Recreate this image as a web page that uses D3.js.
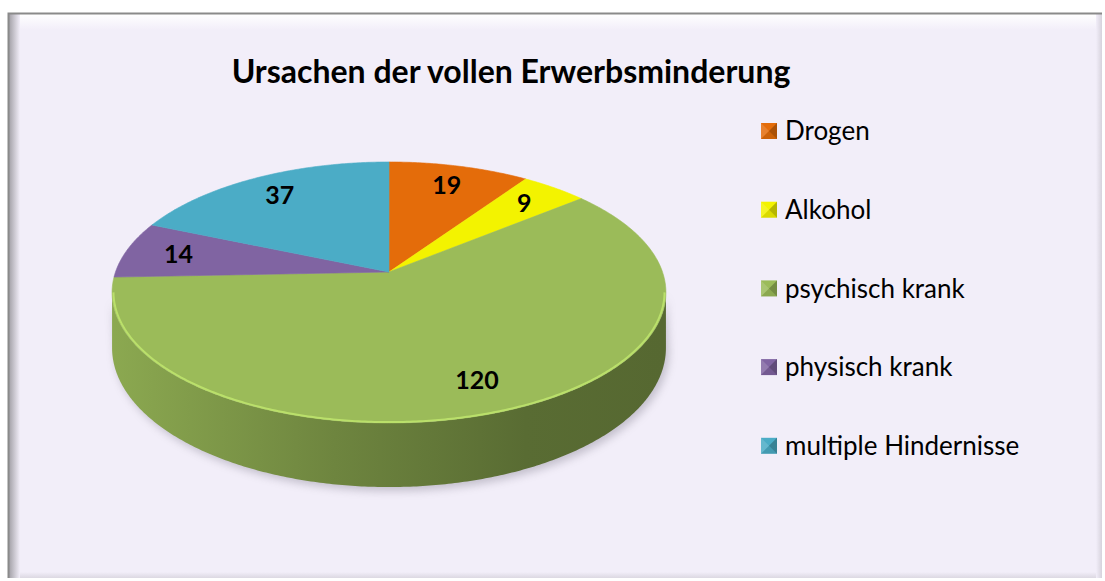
<!DOCTYPE html>
<html>
<head>
<meta charset="utf-8">
<script src="https://cdn.jsdelivr.net/npm/d3@7"></script>
<style>
  body { margin: 0; background: #ffffff; }
  svg { display: block; font-family: Lato, "Open Sans", sans-serif; }
</style>
</head>
<body>
<div id="chart"></div>
<script>
// chart data
var title = "Ursachen der vollen Erwerbsminderung";
var categories = ["Drogen", "Alkohol", "psychisch krank", "physisch krank", "multiple Hindernisse"];
var values = [19, 9, 120, 14, 37];
var colors = ["#e46c0a", "#f3f300", "#9bbb59", "#8064a2", "#4bacc6"];

var width = 1105, height = 581;

var svg = d3.select("#chart").append("svg")
  .attr("width", width)
  .attr("height", height);

var defs = svg.append("defs");

// frame with bevel look
var frame = { x: 8, y: 13, w: 1094, h: 565 };

var lg = defs.append("linearGradient").attr("id", "leftEdge")
  .attr("x1", 0).attr("x2", 1).attr("y1", 0).attr("y2", 0);
lg.append("stop").attr("offset", 0).attr("stop-color", "#9c9aa0");
lg.append("stop").attr("offset", 1).attr("stop-color", "#f2eef9");

var tg = defs.append("linearGradient").attr("id", "topEdge")
  .attr("x1", 0).attr("x2", 0).attr("y1", 0).attr("y2", 1);
tg.append("stop").attr("offset", 0).attr("stop-color", "#ffffff");
tg.append("stop").attr("offset", 1).attr("stop-color", "#f2eef9");

var rg = defs.append("linearGradient").attr("id", "rightEdge")
  .attr("x1", 0).attr("x2", 1).attr("y1", 0).attr("y2", 0);
rg.append("stop").attr("offset", 0).attr("stop-color", "#f2eef9");
rg.append("stop").attr("offset", 1).attr("stop-color", "#d6d2dc");

var bg = defs.append("linearGradient").attr("id", "bottomEdge")
  .attr("x1", 0).attr("x2", 0).attr("y1", 0).attr("y2", 1);
bg.append("stop").attr("offset", 0).attr("stop-color", "#f2eef9");
bg.append("stop").attr("offset", 1).attr("stop-color", "#dcd8e2");

svg.append("rect")
  .attr("x", frame.x).attr("y", frame.y)
  .attr("width", frame.w).attr("height", frame.h)
  .attr("fill", "#f2eef9");
svg.append("rect")
  .attr("x", frame.x).attr("y", frame.y + 1)
  .attr("width", frame.w).attr("height", 16)
  .attr("fill", "url(#topEdge)");
svg.append("rect")
  .attr("x", frame.x).attr("y", frame.y + frame.h - 6)
  .attr("width", frame.w).attr("height", 6)
  .attr("fill", "url(#bottomEdge)");
svg.append("rect")
  .attr("x", frame.x + frame.w - 6).attr("y", frame.y)
  .attr("width", 6).attr("height", frame.h)
  .attr("fill", "url(#rightEdge)");
svg.append("rect")
  .attr("x", frame.x).attr("y", frame.y)
  .attr("width", 12).attr("height", frame.h)
  .attr("fill", "url(#leftEdge)");
svg.append("path")
  .attr("d", "M" + (frame.x + 0.5) + "," + (frame.y + frame.h) + "V" + (frame.y + 0.5) + "H" + (frame.x + frame.w))
  .attr("fill", "none")
  .attr("stroke", "#8a8a8a")
  .attr("stroke-width", 2);

// title
svg.append("text")
  .attr("x", 511)
  .attr("y", 83)
  .attr("text-anchor", "middle")
  .attr("font-size", 32)
  .attr("font-weight", "bold")
  .attr("fill", "#000")
  .text(title);

// 3D pie with a light perspective
var cx = 389, cy = 272;
var A = 273.5, B = 127.3, k = 0.157, H = 54;

function project(a, r) {
  var X = r * Math.sin(a), Z = r * Math.cos(a), w = 1 + k * Z;
  return [cx + A * X / w, cy - B * Z / w];
}
function drop(a) {
  return H / (1 + k * Math.cos(a));
}
function rim(a0, a1, r) {
  var n = Math.max(2, Math.ceil((a1 - a0) / 0.01));
  return d3.range(n + 1).map(function(i) { return project(a0 + (a1 - a0) * i / n, r); });
}

var pie = d3.pie().sort(null).value(function(d) { return d; });
var arcs = pie(values);

var line = d3.line();
var frontStart = Math.acos(-k), frontEnd = 2 * Math.PI - Math.acos(-k);

// side gradients, light on the left, dark on the right
colors.forEach(function(c, i) {
  var g = defs.append("linearGradient").attr("id", "side" + i)
    .attr("gradientUnits", "userSpaceOnUse")
    .attr("x1", cx - A).attr("x2", cx + A).attr("y1", 0).attr("y2", 0);
  g.append("stop").attr("offset", 0).attr("stop-color", d3.color(c).darker(0.3));
  g.append("stop").attr("offset", 0.4).attr("stop-color", d3.color(c).darker(0.95));
  g.append("stop").attr("offset", 0.75).attr("stop-color", d3.color(c).darker(1.55));
  g.append("stop").attr("offset", 1).attr("stop-color", d3.color(c).darker(1.65));
});

var shadow = defs.append("filter").attr("id", "soft")
  .attr("x", "-10%").attr("y", "-10%").attr("width", "120%").attr("height", "130%");
shadow.append("feGaussianBlur").attr("stdDeviation", 4);

var pieG = svg.append("g");

// soft shadow under the pie
var sh = rim(frontStart, frontEnd, 1);
var shBottom = sh.slice().reverse().map(function(p, i) {
  var a = frontEnd - (frontEnd - frontStart) * i / (sh.length - 1);
  return [p[0] + 3, p[1] + drop(a) + 4];
});
pieG.append("path")
  .attr("d", line(sh.concat(shBottom)) + "Z")
  .attr("fill", "#6c6878")
  .attr("opacity", 0.35)
  .attr("filter", "url(#soft)");

// side walls (front half only)
arcs.forEach(function(d, i) {
  var a0 = Math.max(d.startAngle, frontStart), a1 = Math.min(d.endAngle, frontEnd);
  if (a1 <= a0) return;
  var n = Math.max(2, Math.ceil((a1 - a0) / 0.01));
  var top = [], bottom = [];
  for (var j = 0; j <= n; j++) {
    var a = a0 + (a1 - a0) * j / n;
    var p = project(a, 1);
    top.push(p);
    bottom.push([p[0], p[1] + drop(a)]);
  }
  pieG.append("path")
    .attr("d", line(top.concat(bottom.reverse())) + "Z")
    .attr("fill", "url(#side" + i + ")");
});

// top faces
arcs.forEach(function(d, i) {
  var pts = [[cx, cy]].concat(rim(d.startAngle, d.endAngle, 1));
  pieG.append("path")
    .attr("d", line(pts) + "Z")
    .attr("fill", colors[i])
    .attr("stroke", colors[i])
    .attr("stroke-width", 0.6);
});

// light rim highlight along the front edge
arcs.forEach(function(d, i) {
  var a0 = Math.max(d.startAngle, frontStart), a1 = Math.min(d.endAngle, frontEnd);
  if (a1 <= a0) return;
  pieG.append("path")
    .attr("d", line(rim(a0, a1, 0.995)))
    .attr("fill", "none")
    .attr("stroke", d3.color(colors[i]).brighter(0.7))
    .attr("stroke-width", 2)
    .attr("opacity", 0.7);
});

// value labels
pieG.selectAll("text.value")
  .data(arcs)
  .enter()
  .append("text")
  .attr("class", "value")
  .attr("x", function(d) { return project((d.startAngle + d.endAngle) / 2, 0.8)[0]; })
  .attr("y", function(d) { return project((d.startAngle + d.endAngle) / 2, 0.8)[1]; })
  .attr("dy", "0.35em")
  .attr("text-anchor", "middle")
  .attr("font-size", 25)
  .attr("font-weight", "bold")
  .attr("fill", "#000")
  .text(function(d) { return d.data; });

// legend
var legend = svg.append("g").attr("transform", "translate(761,131)");
var rows = legend.selectAll("g")
  .data(categories)
  .enter()
  .append("g")
  .attr("transform", function(d, i) { return "translate(0," + (i * 78.7) + ")"; });

var s = 16;
rows.append("rect")
  .attr("x", 0).attr("y", -s / 2)
  .attr("width", s).attr("height", s)
  .attr("fill", function(d, i) { return colors[i]; });
// bevel facets on the legend keys
var facets = [
  { pts: [[0, -8], [8, 0], [0, 8]], fill: "#ffffff", op: 0.15 },
  { pts: [[16, -8], [16, 8], [8, 0]], fill: "#000000", op: 0.25 },
  { pts: [[0, 8], [16, 8], [8, 0]], fill: "#000000", op: 0.1 }
];
facets.forEach(function(f) {
  rows.append("path")
    .attr("d", line(f.pts) + "Z")
    .attr("fill", f.fill)
    .attr("opacity", f.op);
});

rows.append("text")
  .attr("x", 24)
  .attr("y", 0)
  .attr("dy", "0.35em")
  .attr("font-size", 26)
  .attr("fill", "#000")
  .text(function(d) { return d; });
</script>
</body>
</html>
